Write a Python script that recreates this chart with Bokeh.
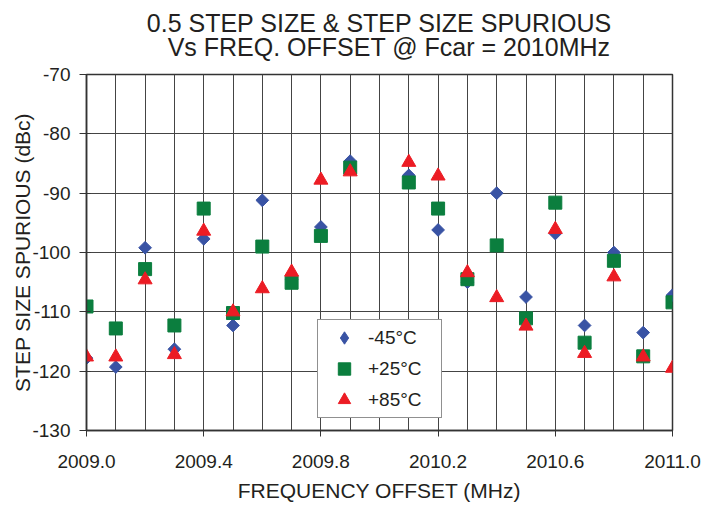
import numpy as np
from bokeh.plotting import figure
from bokeh.layouts import column
from bokeh.models import (FixedTicker, Legend, LegendItem, Range1d, Title,
                          PrintfTickFormatter)
from bokeh.embed import file_html
from bokeh.resources import INLINE

# ---- data ----
freq = [2009.0, 2009.1, 2009.2, 2009.3, 2009.4, 2009.5, 2009.6, 2009.7, 2009.8, 2009.9,
        2010.1, 2010.2, 2010.3, 2010.4, 2010.5, 2010.6, 2010.7, 2010.8, 2010.9, 2011.0]
m45 = [-117.8, -119.3, -99.2, -116.3, -97.7, -112.3, -91.2, -104.5, -95.7, -84.6,
       -87.0, -96.2, -105.0, -90.0, -107.5, -96.8, -112.3, -100.0, -113.5, -107.2]
p25 = [-109.1, -112.8, -102.8, -112.3, -92.6, -110.2, -99.0, -105.1, -97.2, -85.7,
       -88.2, -92.6, -104.5, -98.8, -111.1, -91.6, -115.2, -101.4, -117.5, -108.4]
p85 = [-117.6, -117.6, -104.6, -117.2, -96.4, -110.0, -106.1, -103.3, -87.8, -86.4,
       -84.8, -87.1, -103.4, -107.6, -112.4, -96.1, -117.0, -104.1, -117.6, -119.5]
series_labels = ["-45°C", "+25°C", "+85°C"]
x_major_ticks = [2009.0, 2009.4, 2009.8, 2010.2, 2010.6, 2011.0]
x_minor_ticks = [round(2009.0 + 0.1 * i, 1) for i in range(21)]
y_ticks = [-130, -120, -110, -100, -90, -80, -70]
title_line1 = "0.5 STEP SIZE & STEP SIZE SPURIOUS"
title_line2 = "Vs FREQ. OFFSET @ Fcar = 2010MHz"
x_title = "FREQUENCY OFFSET (MHz)"
y_title = "STEP SIZE SPURIOUS (dBc)"

FONT = "Liberation Sans"
TXT = "#231f20"
GRID = "#444444"
BLUE, GREEN, RED = "#3953a4", "#0b7e3e", "#ec1c24"

# ---- title strip ----
tfig = figure(width=703, height=63, output_backend="svg", toolbar_location=None,
              min_border_top=0, min_border_bottom=0, min_border_left=86,
              min_border_right=31, x_axis_location=None, y_axis_location=None,
              outline_line_color=None, background_fill_color="white",
              border_fill_color="white")
tfig.grid.visible = False
tfig.add_layout(Title(text=title_line1 + "\n" + "\u00a0\u00a0\u00a0" + title_line2,
                      align="center", text_font=FONT, text_font_size="25px",
                      text_font_style="normal", text_line_height=0.86,
                      text_color=TXT, standoff=4), "below")

# ---- main chart ----
p = figure(width=703, height=444, output_backend="svg", toolbar_location=None,
           x_range=Range1d(2009.0, 2011.0), y_range=Range1d(-130, -70),
           min_border_left=86, min_border_right=31, min_border_top=11,
           min_border_bottom=77, background_fill_color="white",
           border_fill_color="white")
p.outline_line_color = "#333333"
p.outline_line_width = 1.5

# axes
p.xaxis.ticker = FixedTicker(ticks=x_major_ticks, minor_ticks=x_minor_ticks)
p.yaxis.ticker = FixedTicker(ticks=y_ticks)
p.xaxis.formatter = PrintfTickFormatter(format="%.1f")
p.yaxis.formatter = PrintfTickFormatter(format="%d")
for ax in (p.xaxis[0], p.yaxis[0]):
    ax.major_label_text_font = FONT
    ax.major_label_text_font_size = "19px"
    ax.major_label_text_color = TXT
    ax.axis_label_text_font = FONT
    ax.axis_label_text_font_size = "21px"
    ax.axis_label_text_font_style = "normal"
    ax.axis_label_text_color = TXT
    ax.axis_line_color = "#333333"
    ax.axis_line_width = 1.5
    ax.major_tick_line_color = "#333333"
    ax.minor_tick_in = 0
    ax.minor_tick_out = 0
p.xaxis.axis_label = x_title
p.yaxis.axis_label = y_title
p.xaxis.major_tick_in = 0
p.xaxis.major_tick_out = 6
p.xaxis.major_label_standoff = 18
p.xaxis.axis_label_standoff = 8
p.yaxis.major_tick_in = 4
p.yaxis.major_tick_out = 7
p.yaxis.major_label_standoff = 9
p.yaxis.axis_label_standoff = -5

# grid
p.xgrid.grid_line_color = GRID
p.xgrid.minor_grid_line_color = GRID
p.xgrid.grid_line_width = 1
p.ygrid.grid_line_color = GRID
p.ygrid.grid_line_width = 1

# series
# diamond key for the legend (legend glyphs ignore marker angle); it sits
# fully underneath the rotated-square markers drawn next
r1_key = p.scatter(freq, m45, marker="diamond", size=11,
                   fill_color=BLUE, line_color=BLUE)
r1 = p.scatter(freq, m45, marker="square", angle=np.pi / 4, size=9,
               fill_color=BLUE, line_color=BLUE)
r2 = p.scatter(freq, p25, marker="square", size=13,
               fill_color=GREEN, line_color=GREEN)
r3 = p.scatter(freq, p85, marker="triangle", size=14,
               fill_color=RED, line_color=RED)

legend = Legend(items=[LegendItem(label=series_labels[0], renderers=[r1_key]),
                       LegendItem(label=series_labels[1], renderers=[r2]),
                       LegendItem(label=series_labels[2], renderers=[r3])],
                location=(231, 12), padding=2, spacing=0, margin=0,
                glyph_height=31, glyph_width=48, label_standoff=0,
                label_width=71, label_height=31,
                label_text_font=FONT, label_text_font_size="19px",
                label_text_color=TXT, border_line_color="#222222",
                border_line_width=1, background_fill_alpha=1)
p.add_layout(legend, "center")

layout = column(tfig, p, spacing=0)
open("out.html", "w").write(file_html(layout, INLINE))
